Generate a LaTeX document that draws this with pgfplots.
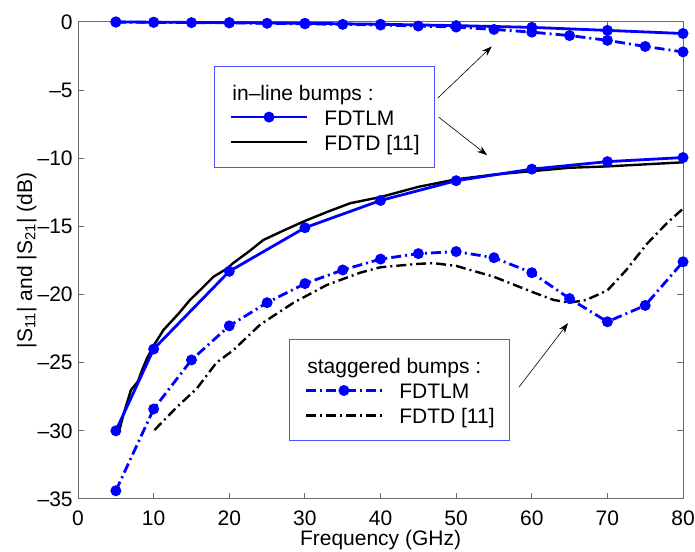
\documentclass[border=0pt]{standalone}
\usepackage{fontspec}
\setmainfont{Liberation Sans}
\usepackage{pgfplots}
\pgfplotsset{compat=1.18}
\usetikzlibrary{arrows.meta}

\definecolor{legblue}{RGB}{80,80,255}
\definecolor{axgray}{RGB}{105,105,105}

\pgfplotsset{
  base/.style={
    scale only axis, width=302.5pt, height=238.5pt,
    xmin=0, xmax=80, ymin=-35, ymax=0,
    clip=false,
    font=\fontsize{10.5}{12}\selectfont,
  },
  leg/.style={
    legend cell align=left,
    legend style={draw=legblue, line width=0.5pt, fill=white,
      inner xsep=7.5pt, inner ysep=7.5pt, row sep=2pt, column sep=8pt,
      font=\fontsize{10.5}{12}\selectfont,
      nodes={inner sep=0pt, text height=9.3pt, text depth=1.2pt}},
    legend image code/.code={
      \draw[mark repeat=2,mark phase=2,##1] plot coordinates {(0pt,0pt)(19pt,0pt)(38pt,0pt)};},
  },
  fdtlm/.style={blue, line width=1.4pt, mark=*, mark size=2pt, mark options={solid, fill=blue}},
  fdtd/.style={black, line width=1.2pt},
  dd/.style={dash pattern=on 5pt off 2pt on 1pt off 2pt},
}

\begin{document}
\begin{tikzpicture}

\begin{axis}[
  base, leg,
  legend style={at={(axis cs:18,-3.24)}, anchor=north west},
  /pgf/number format/assume math mode=true,
  axis line style={axgray, line width=0.5pt},
  tick style={axgray, line width=0.5pt},
  major tick length=3pt,
  tick align=inside,
  xtick={0,10,...,80},
  ytick={-35,-30,-25,-20,-15,-10,-5,0},
  yticklabels={–35,–30,–25,–20,–15,–10,–5,0},
  xticklabel style={inner sep=0pt, anchor=north, yshift=-5.5pt},
  yticklabel style={inner sep=0pt, anchor=east, xshift=-2.5pt},
  xlabel={Frequency (GHz)},
  ylabel={|S\textsubscript{11}| and |S\textsubscript{21}| (dB)},
  xlabel style={at={(rel axis cs:0.5,0)}, anchor=base, inner sep=0pt, yshift=-23.5pt},
  ylabel style={at={(rel axis cs:-0.076,0.5)}, anchor=base, inner sep=0pt},
]

% bounding box like the reference
\path (rel axis cs:-0.129,-0.111) (rel axis cs:1.0198,1.046);

% |S11|, staggered, FDTD [11]
\addplot[fdtd, dd, forget plot] coordinates {
  (10.1,-29.95) (13,-28.3) (15.7,-26.9) (18.3,-25.0) (20.5,-24.1) (24.1,-22.2)
  (28.5,-20.6) (32.9,-19.3) (37.3,-18.4) (40,-18.0) (45,-17.75) (47,-17.7)
  (50,-17.9) (55,-18.7) (60,-19.8) (62.9,-20.4) (65,-20.6) (67.2,-20.4)
  (70,-19.7) (72.5,-18.2) (75.2,-16.3) (77.8,-14.8) (80,-13.7)
};

% |S11|, in-line, FDTD [11]
\addplot[fdtd, forget plot] coordinates {
  (5.5,-29.9) (6,-28.8) (6.5,-27.9) (7,-27.0) (7.9,-26.4) (8.5,-25.5) (9.1,-24.7)
  (10,-23.75) (11.3,-22.6) (13.3,-21.4) (14.8,-20.4) (16.1,-19.7) (17.9,-18.7)
  (19.7,-18.1) (20.5,-17.7) (22.7,-16.8) (24.5,-16.0) (27.2,-15.3) (30,-14.6)
  (32.9,-13.95) (36,-13.3) (40,-12.85) (45,-12.1) (50,-11.55) (55,-11.2)
  (60,-10.95) (65,-10.7) (70,-10.6) (75,-10.45) (80,-10.3)
};

% |S11|, in-line, FDTLM
\addplot[fdtlm, forget plot] coordinates {
  (5,-30.0) (10,-24.0) (20,-18.3) (30,-15.1) (40,-13.1) (50,-11.65)
  (60,-10.8) (70,-10.25) (80,-9.95)
};

% |S11|, staggered, FDTLM
\addplot[fdtlm, dd, forget plot] coordinates {
  (5,-34.4) (10,-28.4) (15,-24.8) (20,-22.3) (25,-20.6) (30,-19.2) (35,-18.2)
  (40,-17.4) (45,-17.0) (50,-16.85) (55,-17.3) (60,-18.4) (65,-20.3)
  (70,-22.0) (75,-20.8) (80,-17.6)
};

% |S21|, staggered, FDTLM
\addplot[fdtlm, dd, forget plot] coordinates {
  (5,-0.01) (10,-0.03) (15,-0.05) (20,-0.07) (25,-0.1) (30,-0.14) (35,-0.18)
  (40,-0.23) (45,-0.3) (50,-0.38) (55,-0.55) (60,-0.75) (65,-1.0)
  (70,-1.35) (75,-1.8) (80,-2.2)
};

% |S21|, in-line, FDTLM
\addplot[fdtlm, forget plot] coordinates {
  (5,0) (10,-0.02) (20,-0.05) (30,-0.1) (40,-0.17) (50,-0.27)
  (60,-0.4) (70,-0.62) (80,-0.85)
};

% legend: in-line bumps
\addlegendimage{empty legend}
\addlegendentry{\hspace{-46pt}in–line bumps :}
\addlegendimage{fdtlm}
\addlegendentry{FDTLM}
\addlegendimage{fdtd}
\addlegendentry{FDTD [11]}

% arrows
\draw[-{Stealth[length=5pt,width=3.5pt]}, line width=0.3pt]
  (axis cs:47.6,-5.57) -- (axis cs:54.7,-1.8);
\draw[-{Stealth[length=5pt,width=3.5pt]}, line width=0.3pt]
  (axis cs:47.7,-6.99) -- (axis cs:54.1,-9.78);
\draw[-{Stealth[length=5pt,width=3.5pt]}, line width=0.3pt]
  (axis cs:58.3,-26.8) -- (axis cs:64.8,-22.1);
\end{axis}

% second legend: staggered bumps
\begin{axis}[
  base, leg, hide axis,
  legend style={at={(axis cs:27.9,-23.3)}, anchor=north west},
]
\addplot[draw=none, forget plot] coordinates {(0,0)};
\addlegendimage{empty legend}
\addlegendentry{\hspace{-46pt}staggered bumps :}
\addlegendimage{fdtlm, dd}
\addlegendentry{FDTLM}
\addlegendimage{fdtd, dd}
\addlegendentry{FDTD [11]}
\end{axis}

\end{tikzpicture}
\end{document}
